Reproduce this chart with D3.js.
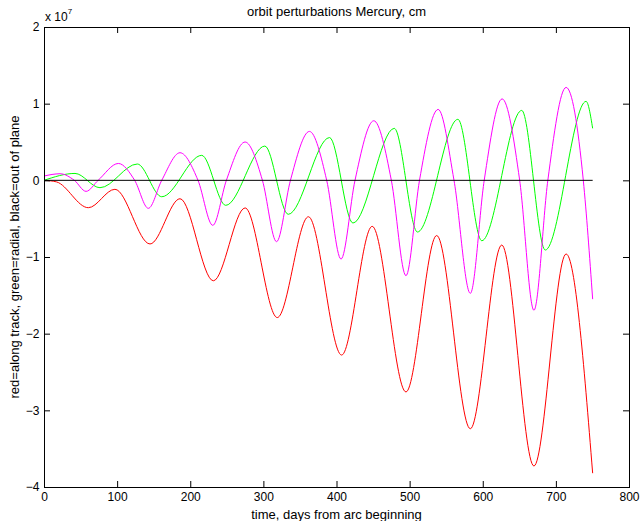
<!DOCTYPE html>
<html>
<head>
<meta charset="utf-8">
<script src="https://cdn.jsdelivr.net/npm/d3@7/dist/d3.min.js"></script>
<style>
  body { margin: 0; background: #ffffff; }
  svg { display: block; font-family: "Liberation Sans", Arial, Helvetica, sans-serif; }
</style>
</head>
<body>
<svg id="orbit"></svg>
<script>
const title = 'orbit perturbations Mercury, cm';
const xTitle = 'time, days from arc beginning';
const yTitle = 'red=along track, green=radial, black=out of plane';

const xTicks = [0, 100, 200, 300, 400, 500, 600, 700, 800];
const yTicks = [-4, -3, -2, -1, 0, 1, 2];

// [day, perturbation in units of 1e7 cm]
const alongTrack = [
  [0, 0], [17, -0.02], [60.6, -0.357], [97, -0.117], [145, -0.83], [186, -0.24],
  [231.6, -1.31], [275, -0.36], [319, -1.79], [361.6, -0.475], [407, -2.279],
  [448.8, -0.60], [495, -2.76], [537, -0.72], [583, -3.24], [626, -0.844],
  [670, -3.726], [714, -0.961], [750.3, -3.82]
];

const radial = [
  [0, 0], [42.4, 0.09], [76.6, -0.096], [127.6, 0.213], [161, -0.214],
  [215.7, 0.326], [248.5, -0.326], [302, 0.447], [334, -0.443], [390.5, 0.558],
  [422.5, -0.557], [479, 0.678], [510.7, -0.674], [566, 0.796], [598.7, -0.788],
  [653.3, 0.912], [685.5, -0.909], [741.3, 1.03], [750.3, 0.678]
];

const magentaTrace = [
  [0, 0.056], [22, 0.086], [41.5, 0], [57.5, -0.144], [74, 0], [101.7, 0.22],
  [124, 0], [142.7, -0.365], [161, 0], [186, 0.36], [210.6, 0], [230.8, -0.587],
  [249.4, 0], [275, 0.50], [298.7, 0], [318, -0.80], [337, 0], [363, 0.638],
  [386.6, 0], [406.2, -1.027], [425.3, 0], [451, 0.777], [475, 0], [495, -1.244],
  [513.5, 0], [539, 0.925], [560.7, 0], [583, -1.474], [602, 0], [626.5, 1.062],
  [650.5, 0], [670, -1.695], [689, 0], [714, 1.212], [737.5, 0], [750.3, -1.55]
];

const outOfPlane = [[0, 0], [750.3, 0]];

(function() {

  const width = 641;
  const height = 521;
  const margin = {
    left: 44,
    right: 12,
    top: 27,
    bottom: 34
  };
  const tickLen = 6;

  const svg = d3.select('#orbit')
    .attr('width', width)
    .attr('height', height);

  const x = d3.scaleLinear()
    .domain([0, 800])
    .range([margin.left, width - margin.right]);

  const y = d3.scaleLinear()
    .domain([-4, 2])
    .range([height - margin.bottom, margin.top]);

  const minusFormat = function(d) {
    return d < 0 ? '\u2212' + Math.abs(d) : String(d);
  };

  // curves
  const line = d3.line()
    .x(function(d) { return x(d[0]); })
    .y(function(d) { return y(d[1]); })
    .curve(d3.curveMonotoneX);

  const series = [
    { data: alongTrack, color: '#ff0000' },
    { data: radial, color: '#00ff00' },
    { data: magentaTrace, color: '#ff00ff' },
    { data: outOfPlane, color: '#000000' }
  ];

  svg.append('g').attr('class', 'lines')
    .selectAll('path')
    .data(series)
    .enter()
    .append('path')
    .attr('d', function(s) { return line(s.data); })
    .attr('fill', 'none')
    .attr('stroke', function(s) { return s.color; })
    .attr('stroke-width', 1);

  // axes, ticks pointing inward on all four sides
  const styleAxis = function(g) {
    g.select('.domain').remove();
    g.selectAll('line').attr('stroke', '#000');
    g.selectAll('text')
      .attr('fill', '#000')
      .style('font-size', '12px')
      .style('font-family', '"Liberation Sans", Arial, sans-serif');
  };

  svg.append('g')
    .attr('transform', 'translate(0,' + (height - margin.bottom) + ')')
    .call(d3.axisBottom(x).tickValues(xTicks).tickSize(-tickLen).tickPadding(5))
    .call(styleAxis);

  svg.append('g')
    .attr('transform', 'translate(0,' + margin.top + ')')
    .call(d3.axisTop(x).tickValues(xTicks).tickSize(-tickLen).tickFormat(''))
    .call(styleAxis);

  svg.append('g')
    .attr('transform', 'translate(' + margin.left + ',0)')
    .call(d3.axisLeft(y).tickValues(yTicks).tickSize(-tickLen).tickPadding(4.5).tickFormat(minusFormat))
    .call(styleAxis);

  svg.append('g')
    .attr('transform', 'translate(' + (width - margin.right) + ',0)')
    .call(d3.axisRight(y).tickValues(yTicks).tickSize(-tickLen).tickFormat(''))
    .call(styleAxis);

  svg.append('rect')
    .attr('x', margin.left + 0.5)
    .attr('y', margin.top + 0.5)
    .attr('width', width - margin.left - margin.right)
    .attr('height', height - margin.top - margin.bottom)
    .attr('fill', 'none')
    .attr('stroke', '#000')
    .attr('stroke-width', 1);

  // exponent label
  const expo = svg.append('text')
    .attr('x', margin.left + 1)
    .attr('y', 20.5)
    .style('font-size', '12px')
    .text('x 10');
  expo.append('tspan')
    .attr('dy', -7)
    .style('font-size', '8px')
    .text('7');

  // titles
  const cx = (x.range()[0] + x.range()[1]) / 2;

  svg.append('text')
    .attr('x', cx)
    .attr('y', 16)
    .attr('text-anchor', 'middle')
    .style('font-size', '13px')
    .text(title);

  svg.append('text')
    .attr('x', cx)
    .attr('y', 519)
    .attr('text-anchor', 'middle')
    .style('font-size', '13px')
    .text(xTitle);

  svg.append('text')
    .attr('transform', 'translate(19,' + ((y.range()[0] + y.range()[1]) / 2) + ') rotate(-90)')
    .attr('text-anchor', 'middle')
    .style('font-size', '13px')
    .text(yTitle);

})();
</script>
</body>
</html>
